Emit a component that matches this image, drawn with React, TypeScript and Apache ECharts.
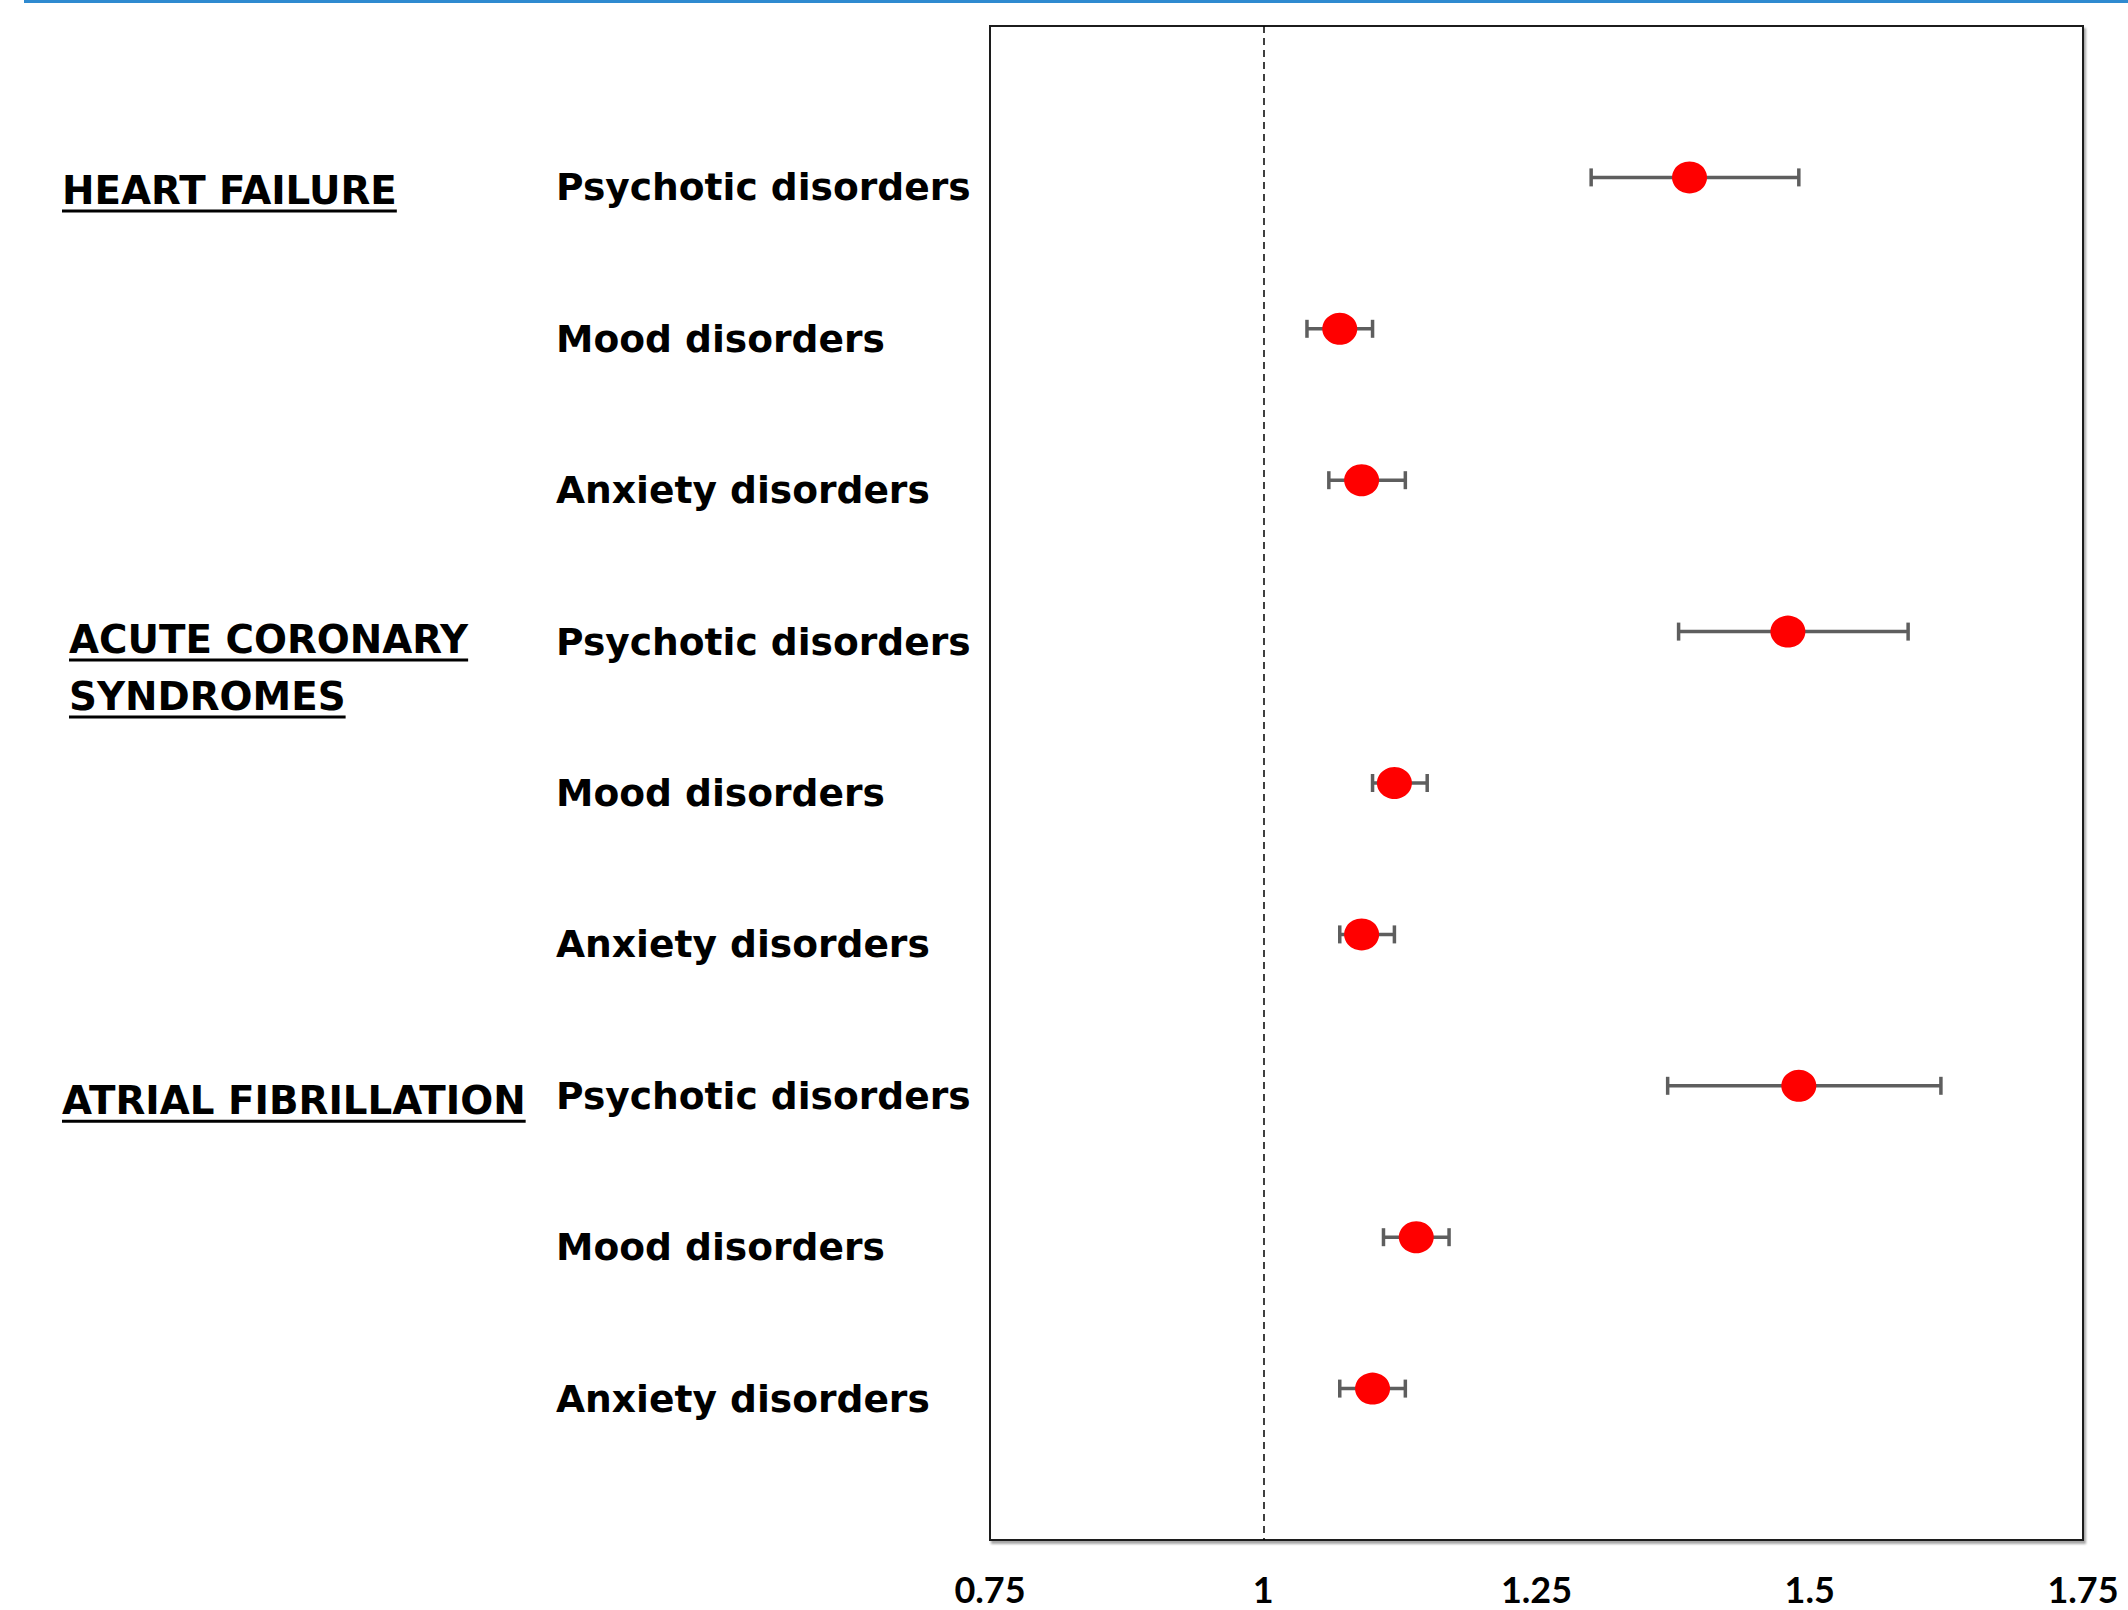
import React, { useEffect, useRef } from 'react';
import * as echarts from 'echarts';

const rowLabels = [
  '',
  'Psychotic disorders', 'Mood disorders', 'Anxiety disorders',
  'Psychotic disorders', 'Mood disorders', 'Anxiety disorders',
  'Psychotic disorders', 'Mood disorders', 'Anxiety disorders',
  '',
];
const groupLines = [['HEART FAILURE'], ['ACUTE CORONARY', 'SYNDROMES'], ['ATRIAL FIBRILLATION']];
const groupRows = [1, 4, 7];
const estimates = [1.39, 1.07, 1.09, 1.48, 1.12, 1.09, 1.49, 1.14, 1.10];
const lower = [1.30, 1.04, 1.06, 1.38, 1.10, 1.07, 1.37, 1.11, 1.07];
const upper = [1.49, 1.10, 1.13, 1.59, 1.15, 1.12, 1.62, 1.17, 1.13];
const xMin = 0.75;
const xMax = 1.75;
const xStep = 0.25;
const refValue = 1;

const LABEL_FAMILY = 'DejaVu Sans';
const LABEL_SIZE = 37.6;
const GROUP_SIZE = 38.8;
const TICK_FAMILY = 'Lato';

function measure(text: string, font: string): number {
  const c = document.createElement('canvas');
  const ctx = c.getContext('2d');
  if (!ctx) return text.length * 20;
  ctx.font = font;
  return ctx.measureText(text).width;
}

export default function App() {
  const ref = useRef<HTMLDivElement>(null);
  useEffect(() => {
    if (!ref.current) return;
    const chart = echarts.init(ref.current, undefined, { renderer: 'svg' });
    const option: any = {
      animation: false,
      backgroundColor: '#ffffff',
      grid: {
        left: 990,
        right: 45,
        top: 26,
        bottom: 70,
        show: true,
        borderColor: '#1a1a1a',
        borderWidth: 2,
        backgroundColor: '#ffffff',
        shadowColor: 'rgba(0,0,0,0.35)',
        shadowOffsetX: 2,
        shadowOffsetY: 3,
        shadowBlur: 2,
      },
      xAxis: {
        type: 'value',
        min: xMin,
        max: xMax,
        interval: xStep,
        axisLine: { show: false },
        axisTick: { show: false },
        splitLine: { show: false },
        axisLabel: {
          fontFamily: TICK_FAMILY,
          fontWeight: 'bold',
          fontSize: 36,
          lineHeight: 30,
          color: '#000',
          margin: 34,
          formatter: (v: number) => String(v),
        },
      },
      yAxis: {
        type: 'category',
        data: rowLabels,
        inverse: true,
        boundaryGap: false,
        axisLine: { show: false },
        axisTick: { show: false },
        splitLine: { show: false },
        axisLabel: {
          interval: 0,
          align: 'left',
          verticalAlign: 'top',
          lineHeight: 20,
          margin: 434,
          fontFamily: LABEL_FAMILY,
          fontWeight: 'bold',
          fontSize: LABEL_SIZE,
          color: '#000',
        },
      },
      series: [
        {
          type: 'custom',
          name: 'ci',
          data: lower.map((l, i) => [l, upper[i], i + 1]),
          encode: { x: [0, 1], y: 2 },
          z: 2,
          renderItem: (params: any, api: any) => {
            const lo = api.coord([api.value(0), api.value(2)]);
            const hi = api.coord([api.value(1), api.value(2)]);
            const h = 9;
            const st = { stroke: '#5e5e5e', lineWidth: 3.5 };
            return {
              type: 'group',
              children: [
                { type: 'line', shape: { x1: lo[0], y1: lo[1], x2: hi[0], y2: hi[1] }, style: st },
                { type: 'line', shape: { x1: lo[0], y1: lo[1] - h, x2: lo[0], y2: lo[1] + h }, style: st },
                { type: 'line', shape: { x1: hi[0], y1: hi[1] - h, x2: hi[0], y2: hi[1] + h }, style: st },
              ],
            };
          },
        },
        {
          type: 'scatter',
          name: 'estimate',
          data: estimates.map((v, i) => [v, i + 1]),
          symbol: 'circle',
          symbolSize: [35, 32],
          itemStyle: { color: '#ff0000', opacity: 1 },
          z: 3,
          markLine: {
            silent: true,
            symbol: 'none',
            label: { show: false },
            lineStyle: { color: '#000', type: [7, 5], width: 1.5 },
            data: [{ xAxis: refValue }],
          },
        },
      ],
    };
    chart.setOption(option);

    const font = `bold ${GROUP_SIZE}px "${LABEL_FAMILY}"`;
    const elements: any[] = [
      { type: 'rect', shape: { x: 24, y: 0, width: 2104, height: 3 }, style: { fill: '#2f8ad0' } },
    ];
    const groupX = [62, 69, 62];
    const groupOffset = [13, 8, 15];
    groupLines.forEach((lines, gi) => {
      const yRow = chart.convertToPixel({ yAxisIndex: 0 }, groupRows[gi]) as number;
      lines.forEach((t, li) => {
        const y = yRow + groupOffset[gi] + li * 57;
        const w = measure(t, font);
        elements.push({
          type: 'text',
          x: groupX[gi],
          y,
          style: {
            text: t,
            font,
            fill: '#000',
            align: 'left',
            textAlign: 'left',
            verticalAlign: 'middle',
            textVerticalAlign: 'middle',
          },
        });
        elements.push({
          type: 'rect',
          shape: { x: groupX[gi], y: y + 19, width: w, height: 3 },
          style: { fill: '#000' },
        });
      });
    });
    chart.setOption({ graphic: { elements } });

    return () => chart.dispose();
  }, []);
  return (
    <div
      ref={ref}
      style={{ position: 'fixed', left: 0, top: 0, width: 2128, height: 1610, background: '#fff' }}
    />
  );
}
